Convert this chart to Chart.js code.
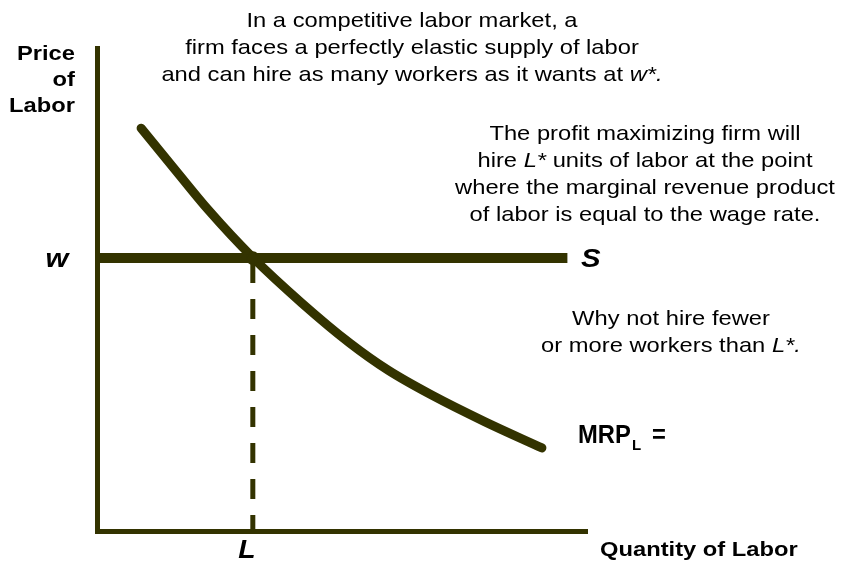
<!DOCTYPE html>
<html lang="en">
  <head>
     <meta charset="utf-8">
     <title>Competitive labor market</title>
     <script src="https://cdn.jsdelivr.net/npm/chart.js@4"></script>
     <style>
       body { margin: 0; background: #fff; }
     </style>
  </head>
  <body>
     <canvas id="chartCanvas" width="842" height="563"></canvas>
     <script>
        // values (0..100 on both axes)
        const mrpLabor = [9.0, 16.5, 22.7, 31.8, 41.8, 51.6, 59.4, 68.2, 79.2, 90.8];
        const mrpPrice = [83.4, 74.1, 66.5, 56.6, 47.2, 38.9, 33.3, 28.2, 22.6, 17.2];
        const wage = 56.5;
        const supplyLabor = [0.6, 96];
        const laborStar = 31.8;

        const ink = '#333300';
        const family = '"Liberation Sans", Arial, sans-serif';

        function pts(xs, ys) {
          return xs.map((x, i) => ({ x: x, y: ys[i] }));
        }

        // draw runs of [text, italic] with a little horizontal stretch
        function runs(ctx, parts, x, y, size, weight, align, stretch) {
          stretch = stretch || 1.13;
          let total = 0;
          parts.forEach(p => {
            ctx.font = (p[1] ? 'italic ' : '') + weight + ' ' + size + 'px ' + family;
            total += ctx.measureText(p[0]).width;
          });
          let start = align === 'center' ? -total / 2 : align === 'right' ? -total : 0;
          ctx.save();
          ctx.translate(x, y);
          ctx.scale(stretch, 1);
          ctx.textAlign = 'left';
          ctx.textBaseline = 'alphabetic';
          ctx.fillStyle = '#000';
          parts.forEach(p => {
            ctx.font = (p[1] ? 'italic ' : '') + weight + ' ' + size + 'px ' + family;
            ctx.fillText(p[0], start, 0);
            start += ctx.measureText(p[0]).width;
          });
          ctx.restore();
        }

        const notes = {
          id: 'notes',
          afterDraw(chart) {
            const ctx = chart.ctx;
            const xs = chart.scales.x, ys = chart.scales.y;

            runs(ctx, [['In a competitive labor market, a', 0]], 412, 27, 21, 'normal', 'center');
            runs(ctx, [['firm faces a perfectly elastic supply of labor', 0]], 412, 54, 21, 'normal', 'center');
            runs(ctx, [['and can hire as many workers as it wants at ', 0], ['w*.', 1]], 412, 81, 21, 'normal', 'center');

            runs(ctx, [['The profit maximizing firm will', 0]], 645, 140, 21, 'normal', 'center');
            runs(ctx, [['hire ', 0], ['L*', 1], [' units of labor at the point', 0]], 645, 167, 21, 'normal', 'center');
            runs(ctx, [['where the marginal revenue product', 0]], 645, 194, 21, 'normal', 'center');
            runs(ctx, [['of labor is equal to the wage rate.', 0]], 645, 221, 21, 'normal', 'center');

            runs(ctx, [['Why not hire fewer', 0]], 671, 325, 21, 'normal', 'center');
            runs(ctx, [['or more workers than ', 0], ['L*.', 1]], 671, 352, 21, 'normal', 'center');

            runs(ctx, [['Price', 0]], 75, 60, 21, 'bold', 'right');
            runs(ctx, [['of', 0]], 75, 86, 21, 'bold', 'right');
            runs(ctx, [['Labor', 0]], 75, 112, 21, 'bold', 'right');
            runs(ctx, [['Quantity of Labor', 0]], 600, 556, 21, 'bold', 'left');

            const wy = ys.getPixelForValue(wage);
            runs(ctx, [['w', 1]], 57, wy + 9, 26, 'bold', 'center');
            runs(ctx, [['S', 1]], 581, wy + 9, 26, 'bold', 'left');
            runs(ctx, [['L', 1]], xs.getPixelForValue(laborStar) - 6, 558, 25, 'bold', 'center');

            runs(ctx, [['MRP', 0]], 578, 443, 25, 'bold', 'left', 0.95);
            runs(ctx, [['L', 0]], 632, 450, 15, 'bold', 'left', 1.0);
            runs(ctx, [['=', 0]], 652, 443, 25, 'bold', 'left', 0.95);
          }
        };

        const ctx = document.getElementById('chartCanvas');

        new Chart(ctx, {
          type: 'scatter',
          data: {
            datasets: [
              {
                data: [{ x: laborStar, y: wage }],
                pointRadius: 6,
                pointBorderWidth: 1.5,
                pointBorderColor: ink,
                pointBackgroundColor: 'rgba(0,0,0,0)',
                order: 0
              },
              {
                data: pts([laborStar, laborStar], [wage - 1, 0]),
                showLine: true,
                borderColor: ink,
                borderWidth: 5,
                borderDash: [20, 16],
                pointRadius: 0,
                order: 3
              },
              {
                data: pts(supplyLabor, [wage, wage]),
                showLine: true,
                borderColor: ink,
                borderWidth: 10,
                pointRadius: 0,
                order: 2
              },
              {
                data: pts(mrpLabor, mrpPrice),
                showLine: true,
                borderColor: ink,
                borderWidth: 9,
                borderCapStyle: 'round',
                borderJoinStyle: 'round',
                cubicInterpolationMode: 'monotone',
                pointRadius: 0,
                order: 1
              }
            ]
          },
          options: {
            responsive: false,
            animation: false,
            layout: {
              padding: { left: 97, right: 255, top: 48, bottom: 32 }
            },
            plugins: {
              legend: { display: false },
              tooltip: { enabled: false }
            },
            scales: {
              x: {
                type: 'linear', min: 0, max: 100,
                grid: { display: false, drawTicks: false },
                ticks: { display: false },
                border: { display: true, color: ink, width: 5 }
              },
              y: {
                type: 'linear', min: 0, max: 100,
                grid: { display: false, drawTicks: false },
                ticks: { display: false },
                border: { display: true, color: ink, width: 5 }
              }
            }
          },
          plugins: [notes]
        });
    </script>
  </body>
 </html>
